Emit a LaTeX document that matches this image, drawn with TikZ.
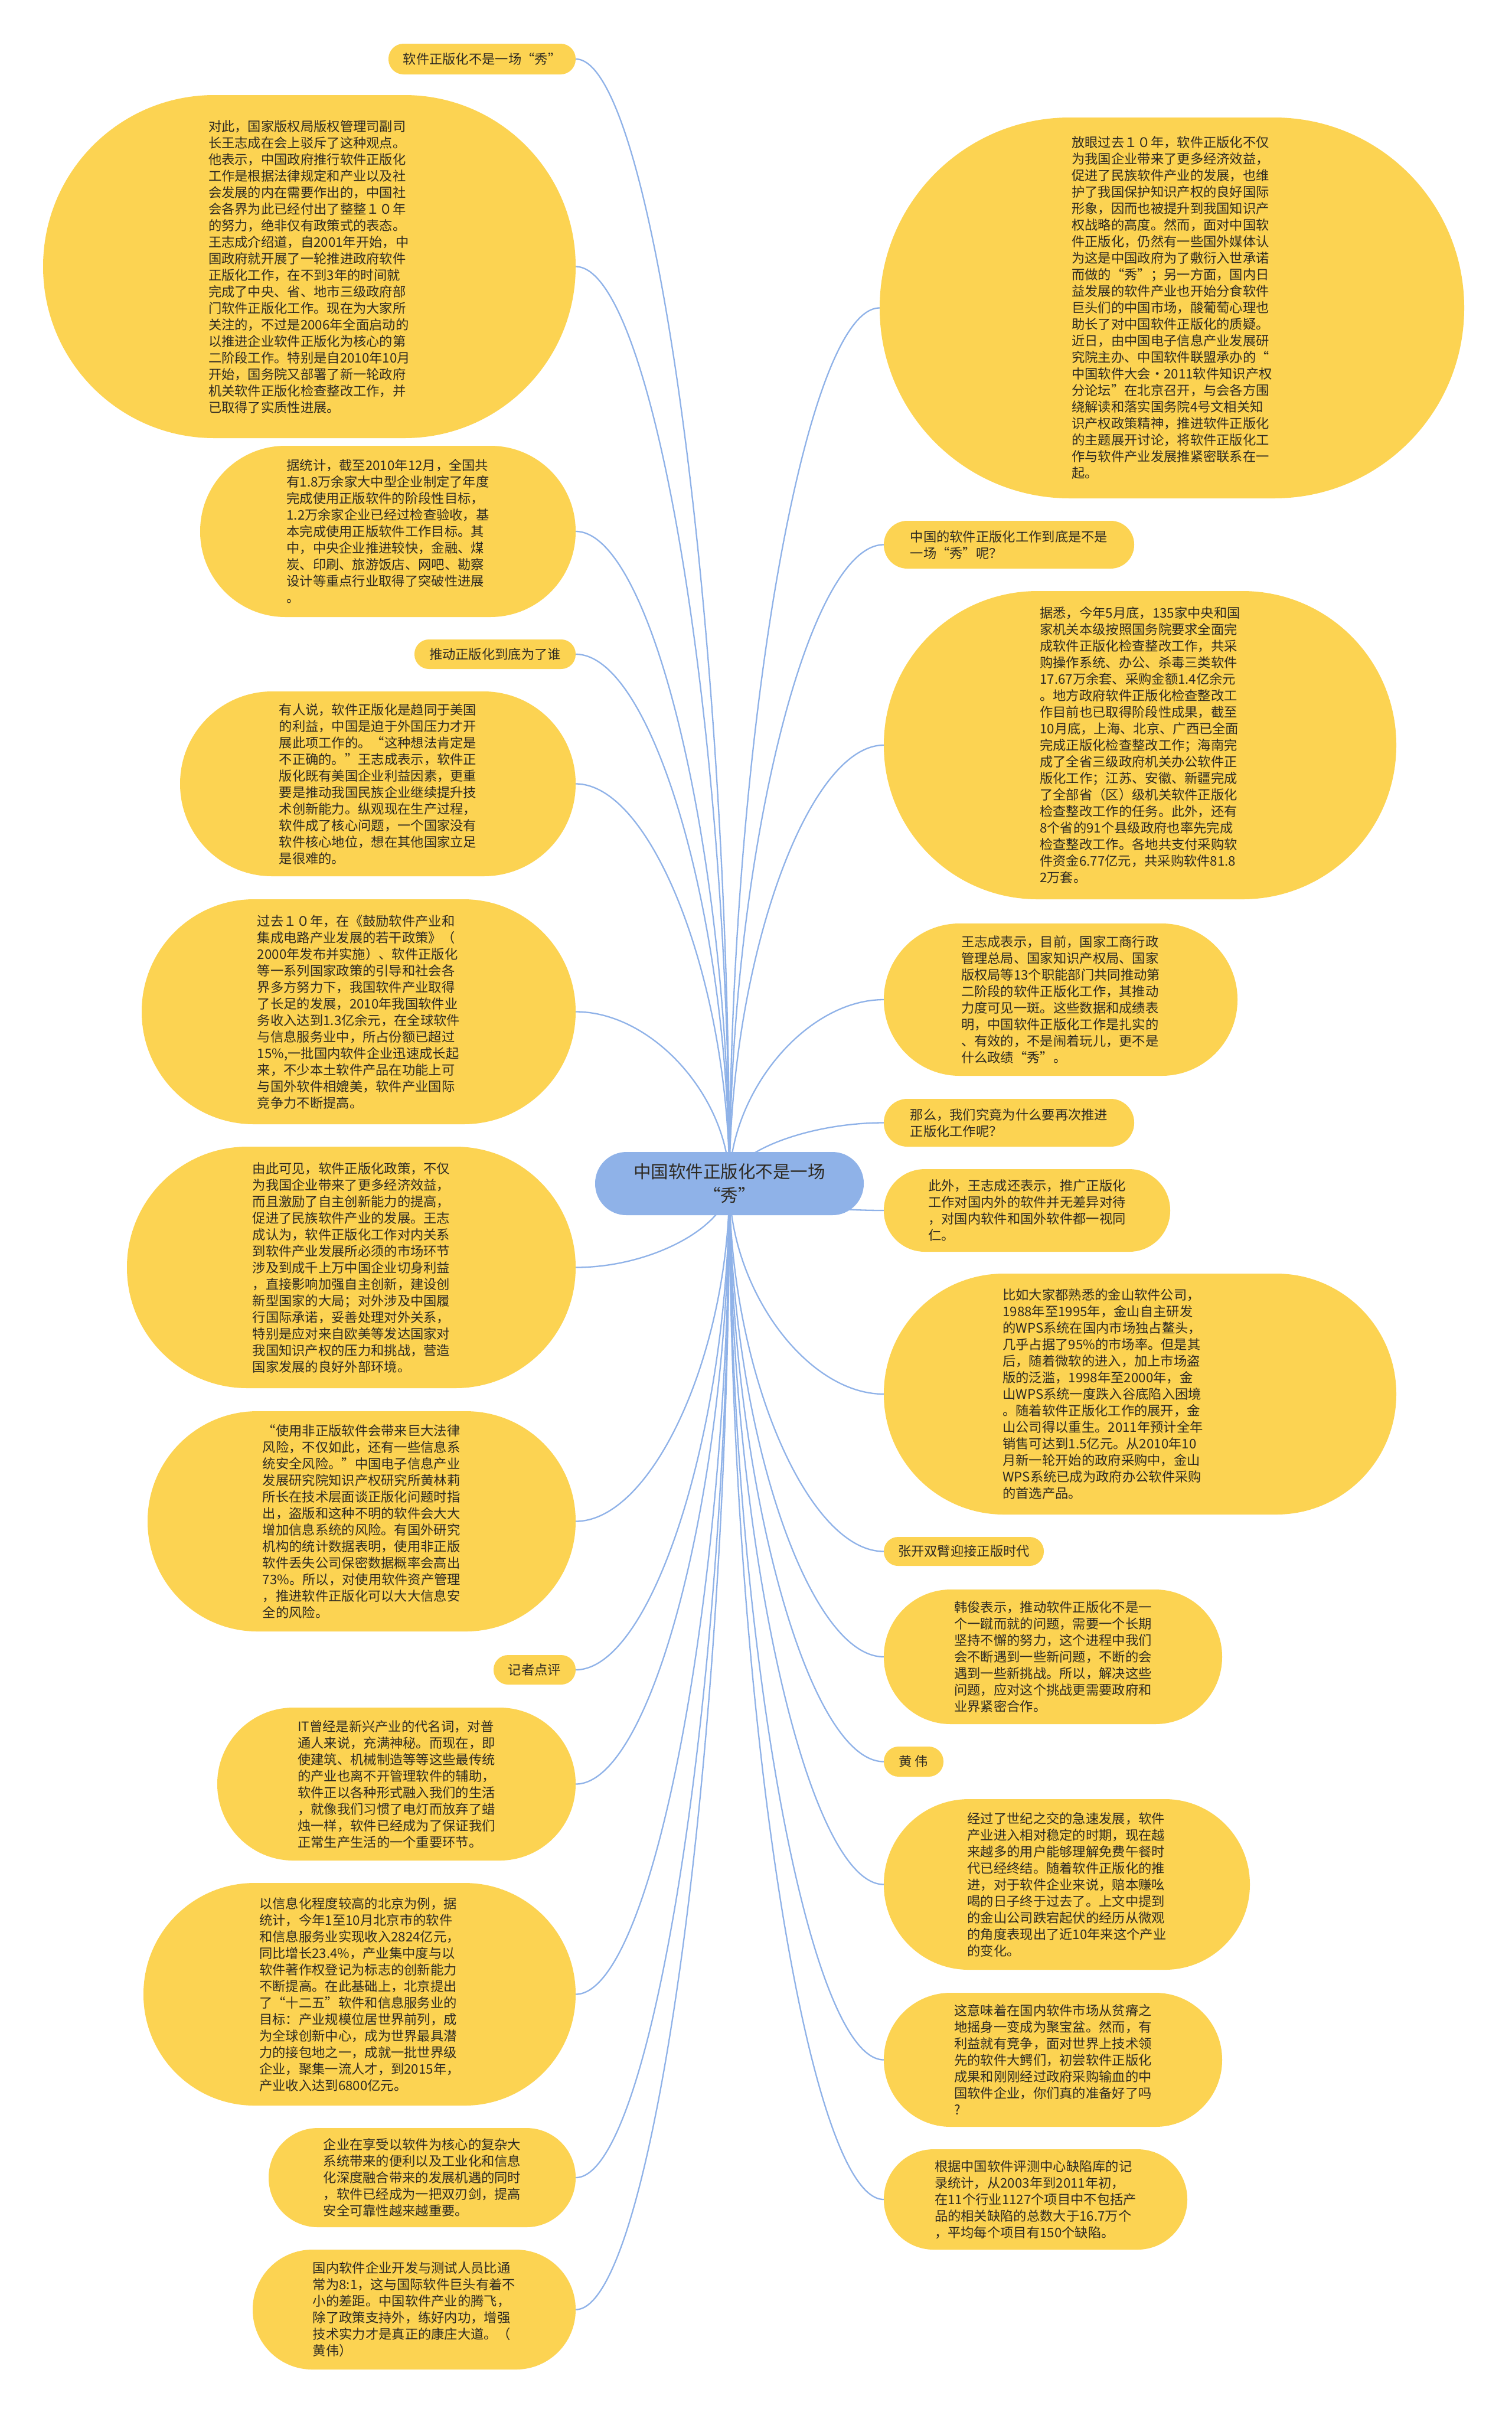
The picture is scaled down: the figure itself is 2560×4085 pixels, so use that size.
\documentclass[tikz,border=0pt]{standalone}
\usepackage{fontspec}
\setmainfont{Noto Sans CJK SC}
\usetikzlibrary{calc}
\pgfdeclarelayer{bg}
\pgfsetlayers{bg,main}
\definecolor{nodeyel}{HTML}{FCD352}
\definecolor{linkblue}{HTML}{8FB2E8}
\definecolor{txtcol}{HTML}{2E2A22}
\tikzset{
  ybox/.style={fill=nodeyel, draw=none, inner sep=0pt, align=left, text=txtcol,
    font=\fontsize{22.3pt}{28pt}\selectfont},
  ytext/.style={fill=none, draw=none, inner sep=0pt, align=left, text=txtcol,
    font=\fontsize{22.3pt}{28pt}\selectfont},
  cbox/.style={fill=linkblue, draw=none, inner sep=0pt, align=center, text=txtcol,
    font=\fontsize{29.5pt}{40pt}\selectfont},
  conn/.style={draw=linkblue, line width=2.3pt}
}
\newcommand\mybox[7][ybox]{%
  \pgfmathsetmacro\bw{#5-#3}\pgfmathsetmacro\bh{#6-#4}%
  \pgfmathsetmacro\bcx{(#3+#5)/2}\pgfmathsetmacro\bcy{(#4+#6)/2}%
  \pgfmathsetmacro\br{\bh/2-0.5}%
  \node[#1, minimum width=\bw pt, minimum height=\bh pt, rounded corners=\br pt] (#2) at (\bcx,\bcy) {#7};}
\newcommand\leftlink[1]{\draw[conn] (C.center) .. controls ($(C.center)!.5!(C.center |- #1.east)$) and ($(#1.east)!.5!(C.center |- #1.east)$) .. (#1.east);}
\newcommand\rightlink[1]{\draw[conn] (C.center) .. controls ($(C.center)!.5!(C.center |- #1.west)$) and ($(#1.west)!.5!(C.center |- #1.west)$) .. (#1.west);}
\begin{document}
\begin{tikzpicture}[x=1pt,y=-1pt]
\begin{pgfonlayer}{bg}
\fill[white] (0,0) rectangle (2560,4085);
\end{pgfonlayer}
\useasboundingbox (0,0) rectangle (2560,4085);
% centre
\mybox[cbox]{C}{1008}{1951}{1463}{2058}{中国软件正版化不是一场\\“秀”}
% left side
\mybox{L0}{658}{74}{975}{126}{软件正版化不是一场“秀”}
\mybox{L1}{73}{161}{975}{742}{对此，国家版权局版权管理司副司\\长王志成在会上驳斥了这种观点。\\他表示，中国政府推行软件正版化\\工作是根据法律规定和产业以及社\\会发展的内在需要作出的，中国社\\会各界为此已经付出了整整１０年\\的努力，绝非仅有政策式的表态。\\王志成介绍道，自2001年开始，中\\国政府就开展了一轮推进政府软件\\正版化工作，在不到3年的时间就\\完成了中央、省、地市三级政府部\\门软件正版化工作。现在为大家所\\关注的，不过是2006年全面启动的\\以推进企业软件正版化为核心的第\\二阶段工作。特别是自2010年10月\\开始，国务院又部署了新一轮政府\\机关软件正版化检查整改工作，并\\已取得了实质性进展。}
\mybox{L2}{339}{755}{975}{1045}{据统计，截至2010年12月，全国共\\有1.8万余家大中型企业制定了年度\\完成使用正版软件的阶段性目标，\\1.2万余家企业已经过检查验收，基\\本完成使用正版软件工作目标。其\\中，中央企业推进较快，金融、煤\\炭、印刷、旅游饭店、网吧、勘察\\设计等重点行业取得了突破性进展\\。}
\mybox{L3}{702}{1083}{975}{1133}{推动正版化到底为了谁}
\mybox{L4}{305}{1171}{975}{1484}{有人说，软件正版化是趋同于美国\\的利益，中国是迫于外国压力才开\\展此项工作的。“这种想法肯定是\\不正确的。”王志成表示，软件正\\版化既有美国企业利益因素，更重\\要是推动我国民族企业继续提升技\\术创新能力。纵观现在生产过程，\\软件成了核心问题，一个国家没有\\软件核心地位，想在其他国家立足\\是很难的。}
\mybox{L5}{240}{1523}{975}{1904}{过去１０年，在《鼓励软件产业和\\集成电路产业发展的若干政策》（\\2000年发布并实施）、软件正版化\\等一系列国家政策的引导和社会各\\界多方努力下，我国软件产业取得\\了长足的发展，2010年我国软件业\\务收入达到1.3亿余元，在全球软件\\与信息服务业中，所占份额已超过\\15\%,一批国内软件企业迅速成长起\\来，不少本土软件产品在功能上可\\与国外软件相媲美，软件产业国际\\竞争力不断提高。}
\mybox{L6}{215}{1942}{975}{2351}{由此可见，软件正版化政策，不仅\\为我国企业带来了更多经济效益，\\而且激励了自主创新能力的提高，\\促进了民族软件产业的发展。王志\\成认为，软件正版化工作对内关系\\到软件产业发展所必须的市场环节\\涉及到成千上万中国企业切身利益\\，直接影响加强自主创新，建设创\\新型国家的大局；对外涉及中国履\\行国际承诺，妥善处理对外关系，\\特别是应对来自欧美等发达国家对\\我国知识产权的压力和挑战，营造\\国家发展的良好外部环境。}
\mybox{L7}{250}{2390}{975}{2763}{“使用非正版软件会带来巨大法律\\风险，不仅如此，还有一些信息系\\统安全风险。”中国电子信息产业\\发展研究院知识产权研究所黄林莉\\所长在技术层面谈正版化问题时指\\出，盗版和这种不明的软件会大大\\增加信息系统的风险。有国外研究\\机构的统计数据表明，使用非正版\\软件丢失公司保密数据概率会高出\\73\%。所以，对使用软件资产管理\\，推进软件正版化可以大大信息安\\全的风险。}
\mybox{L8}{836}{2803}{975}{2853}{记者点评}
\mybox{L9}{368}{2892}{975}{3151}{IT曾经是新兴产业的代名词，对普\\通人来说，充满神秘。而现在，即\\使建筑、机械制造等等这些最传统\\的产业也离不开管理软件的辅助，\\软件正以各种形式融入我们的生活\\，就像我们习惯了电灯而放弃了蜡\\烛一样，软件已经成为了保证我们\\正常生产生活的一个重要环节。}
\mybox{L10}{243}{3189}{975}{3566}{以信息化程度较高的北京为例，据\\统计，今年1至10月北京市的软件\\和信息服务业实现收入2824亿元，\\同比增长23.4\%，产业集中度与以\\软件著作权登记为标志的创新能力\\不断提高。在此基础上，北京提出\\了“十二五”软件和信息服务业的\\目标：产业规模位居世界前列，成\\为全球创新中心，成为世界最具潜\\力的接包地之一，成就一批世界级\\企业，聚集一流人才，到2015年，\\产业收入达到6800亿元。}
\mybox{L11}{455}{3604}{975}{3772}{企业在享受以软件为核心的复杂大\\系统带来的便利以及工业化和信息\\化深度融合带来的发展机遇的同时\\，软件已经成为一把双刃剑，提高\\安全可靠性越来越重要。}
\mybox{L12}{428}{3810}{975}{4013}{国内软件企业开发与测试人员比通\\常为8:1，这与国际软件巨头有着不\\小的差距。中国软件产业的腾飞，\\除了政策支持外，练好内功，增强\\技术实力才是真正的康庄大道。（\\黄伟）}
% right side
\mybox{R0}{1490}{199}{2480}{844}{放眼过去１０年，软件正版化不仅\\为我国企业带来了更多经济效益，\\促进了民族软件产业的发展，也维\\护了我国保护知识产权的良好国际\\形象，因而也被提升到我国知识产\\权战略的高度。然而，面对中国软\\件正版化，仍然有一些国外媒体认\\为这是中国政府为了敷衍入世承诺\\而做的“秀”；另一方面，国内日\\益发展的软件产业也开始分食软件\\巨头们的中国市场，酸葡萄心理也\\助长了对中国软件正版化的质疑。\\近日，由中国电子信息产业发展研\\究院主办、中国软件联盟承办的“\\中国软件大会·2011软件知识产权\\分论坛”在北京召开，与会各方围\\绕解读和落实国务院4号文相关知\\识产权政策精神，推进软件正版化\\的主题展开讨论，将软件正版化工\\作与软件产业发展推紧密联系在一\\起。}
\mybox{R1}{1497}{882}{1921}{963}{中国的软件正版化工作到底是不是\\一场“秀”呢？}
\mybox{R2}{1497}{1001}{2365}{1523}{据悉，今年5月底，135家中央和国\\家机关本级按照国务院要求全面完\\成软件正版化检查整改工作，共采\\购操作系统、办公、杀毒三类软件\\17.67万余套、采购金额1.4亿余元\\。地方政府软件正版化检查整改工\\作目前也已取得阶段性成果，截至\\10月底，上海、北京、广西已全面\\完成正版化检查整改工作；海南完\\成了全省三级政府机关办公软件正\\版化工作；江苏、安徽、新疆完成\\了全部省（区）级机关软件正版化\\检查整改工作的任务。此外，还有\\8个省的91个县级政府也率先完成\\检查整改工作。各地共支付采购软\\件资金6.77亿元，共采购软件81.8\\2万套。}
\mybox{R3}{1497}{1564}{2096}{1822}{王志成表示，目前，国家工商行政\\管理总局、国家知识产权局、国家\\版权局等13个职能部门共同推动第\\二阶段的软件正版化工作，其推动\\力度可见一斑。这些数据和成绩表\\明，中国软件正版化工作是扎实的\\、有效的，不是闹着玩儿，更不是\\什么政绩“秀”。}
\mybox{R4}{1497}{1861}{1921}{1942}{那么，我们究竟为什么要再次推进\\正版化工作呢？}
\mybox{R5}{1497}{1980}{1982}{2120}{此外，王志成还表示，推广正版化\\工作对国内外的软件并无差异对待\\，对国内软件和国外软件都一视同\\仁。}
\mybox{R6}{1497}{2157}{2365}{2565}{}
\node[ytext] (R6t) at (1868,2361) {比如大家都熟悉的金山软件公司，\\1988年至1995年，金山自主研发\\的WPS系统在国内市场独占鳌头，\\几乎占据了95\%的市场率。但是其\\后，随着微软的进入，加上市场盗\\版的泛滥，1998年至2000年，金\\山WPS系统一度跌入谷底陷入困境\\。随着软件正版化工作的展开，金\\山公司得以重生。2011年预计全年\\销售可达到1.5亿元。从2010年10\\月新一轮开始的政府采购中，金山\\WPS系统已成为政府办公软件采购\\的首选产品。};
\mybox{R7}{1497}{2603}{1768}{2652}{张开双臂迎接正版时代}
\mybox{R8}{1497}{2692}{2070}{2920}{韩俊表示，推动软件正版化不是一\\个一蹴而就的问题，需要一个长期\\坚持不懈的努力，这个进程中我们\\会不断遇到一些新问题，不断的会\\遇到一些新挑战。所以，解决这些\\问题，应对这个挑战更需要政府和\\业界紧密合作。}
\mybox{R9}{1497}{2958}{1598}{3009}{黄 伟}
\mybox{R10}{1497}{3047}{2117}{3336}{经过了世纪之交的急速发展，软件\\产业进入相对稳定的时期，现在越\\来越多的用户能够理解免费午餐时\\代已经终结。随着软件正版化的推\\进，对于软件企业来说，赔本赚吆\\喝的日子终于过去了。上文中提到\\的金山公司跌宕起伏的经历从微观\\的角度表现出了近10年来这个产业\\的变化。}
\mybox{R11}{1497}{3375}{2070}{3602}{这意味着在国内软件市场从贫瘠之\\地摇身一变成为聚宝盆。然而，有\\利益就有竞争，面对世界上技术领\\先的软件大鳄们，初尝软件正版化\\成果和刚刚经过政府采购输血的中\\国软件企业，你们真的准备好了吗\\?}
\mybox{R12}{1497}{3640}{2011}{3810}{根据中国软件评测中心缺陷库的记\\录统计，从2003年到2011年初，\\在11个行业1127个项目中不包括产\\品的相关缺陷的总数大于16.7万个\\，平均每个项目有150个缺陷。}
% connectors
\begin{pgfonlayer}{bg}
\foreach \n in {L0,L1,L2,L3,L4,L5,L6,L7,L8,L9,L10,L11,L12}{\leftlink{\n}}
\foreach \n in {R0,R1,R2,R3,R4,R5,R6,R7,R8,R9,R10,R11,R12}{\rightlink{\n}}
\end{pgfonlayer}
\end{tikzpicture}
\end{document}
